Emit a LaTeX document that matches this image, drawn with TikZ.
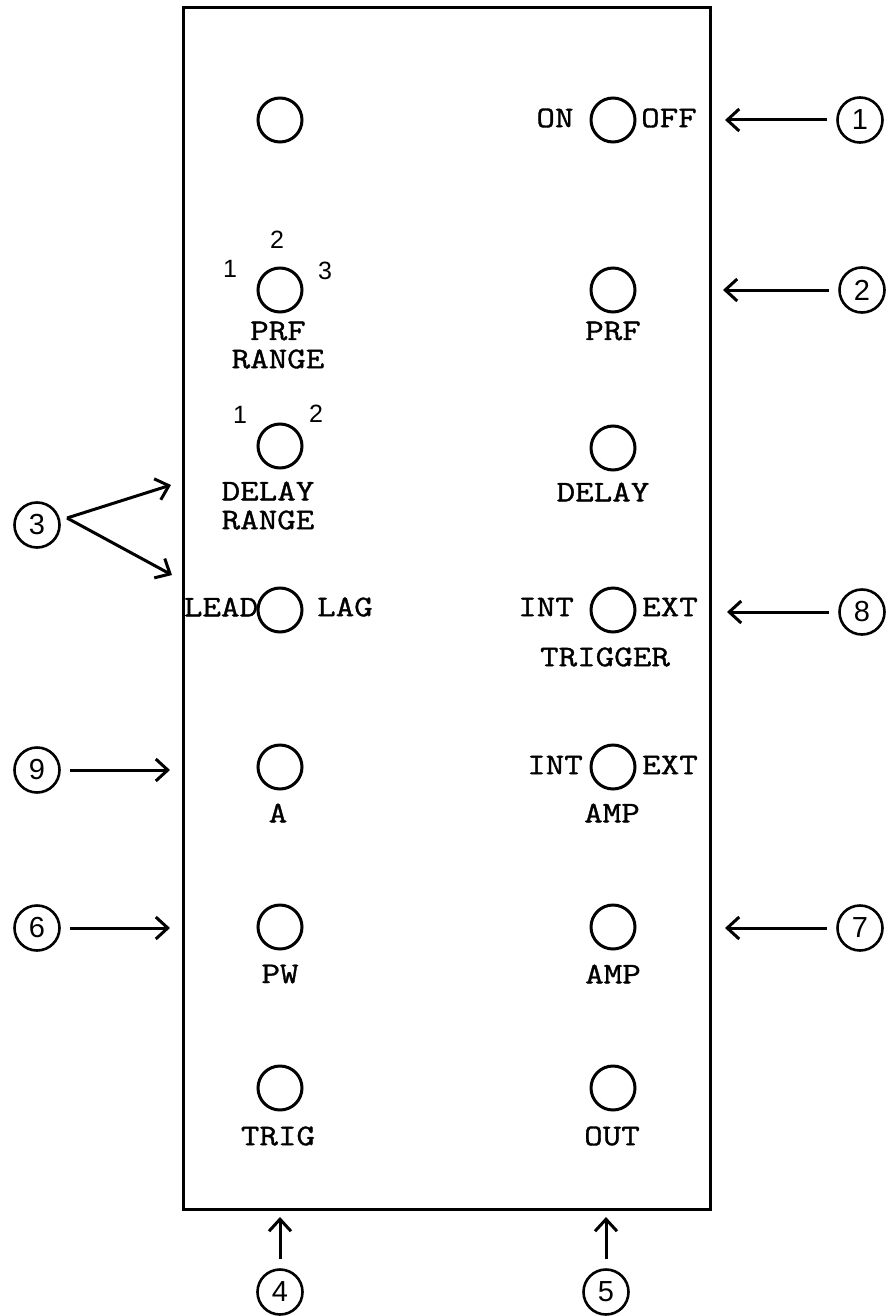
\documentclass[tikz,border=0pt]{standalone}
\usepackage{fontspec}
\newfontfamily\panelfont{Latin Modern Mono}[FakeStretch=1.2, FakeBold=1.2]
\newfontfamily\digitfont{Liberation Sans}
\usetikzlibrary{arrows.meta}
\begin{document}
\begin{tikzpicture}[x=0.5pt,y=-0.5pt,
  lbl/.style={font=\fontsize{15}{17}\panelfont, inner sep=0pt},
  posnum/.style={font=\fontsize{12.5}{14}\digitfont, inner sep=0pt},
  knob/.style={circle, draw, line width=1.5pt, minimum size=22pt, inner sep=0pt},
  callout/.style={circle, draw, line width=1.3pt, minimum size=22.5pt, inner sep=0pt,
                  font=\fontsize{14.5}{16}\digitfont},
  pointer/.style={line width=1.5pt, shorten <=4.5pt,
                  -{Straight Barb[length=6pt,width=11pt,line width=1.5pt]}}
]
\useasboundingbox (0,0) rectangle (888,1316);

% front panel outline
\coordinate (panelNW) at (183,8);
\coordinate (panelSE) at (710,1209);
\draw[line width=1.5pt] (panelNW) rectangle (panelSE);

% ---- left column of controls ----
\node[knob] (k1L) at (280,120) {};

\node[knob] (k2L) at (280,290) {};
\node[posnum] (p2L1) at (230,269) {1};
\node[posnum] (p2L2) at (277,240) {2};
\node[posnum] (p2L3) at (325,271) {3};
\node[lbl] (prfr1) at (278,331) {PRF};
\node[lbl] (prfr2) at (278,359) {RANGE};

\node[knob] (k3L) at (280,446) {};
\node[posnum] (p3L1) at (240,415) {1};
\node[posnum] (p3L2) at (316,414) {2};
\node[lbl] (dlyr1) at (268,491) {DELAY};
\node[lbl] (dlyr2) at (268,520) {RANGE};

\node[knob] (k4L) at (280,610) {};
\node[lbl] (lead) at (221,607) {LEAD};
\node[lbl] (lag) at (345,607) {LAG};

\node[knob] (k5L) at (280,767) {};
\node[lbl] (alab) at (278,813) {A};

\node[knob] (k6L) at (280,927) {};
\node[lbl] (pwlab) at (280,974) {PW};

\node[knob] (k7L) at (280,1088) {};
\node[lbl] (triglab) at (278,1136) {TRIG};

% ---- right column of controls ----
\node[knob] (k1R) at (613,120) {};
\node[lbl] (onlab) at (555,118) {ON};
\node[lbl] (offlab) at (669,118) {OFF};

\node[knob] (k2R) at (613,290) {};
\node[lbl] (prflab) at (613,331) {PRF};

\node[knob] (k3R) at (613,448) {};
\node[lbl] (dlylab) at (603,492) {DELAY};

\node[knob] (k4R) at (613,610) {};
\node[lbl] (int1) at (546,607) {INT};
\node[lbl] (ext1) at (670,607) {EXT};
\node[lbl] (trglab) at (605,657) {TRIGGER};

\node[knob] (k5R) at (613,767) {};
\node[lbl] (int2) at (555,765) {INT};
\node[lbl] (ext2) at (670,765) {EXT};
\node[lbl] (amplab1) at (612,813) {AMP};

\node[knob] (k6R) at (613,927) {};
\node[lbl] (amplab2) at (613,974) {AMP};

\node[knob] (k7R) at (613,1088) {};
\node[lbl] (outlab) at (612,1136) {OUT};

% ---- numbered callouts ----
\node[callout] (c1) at (860,120) {1};
\node[callout] (c2) at (862,290) {2};
\node[callout] (c3) at (37,525) {3};
\node[callout] (c4) at (280,1292) {4};
\node[callout] (c5) at (606,1292) {5};
\node[callout] (c6) at (37,928) {6};
\node[callout] (c7) at (860,928) {7};
\node[callout] (c8) at (862,612) {8};
\node[callout] (c9) at (37,770) {9};

% arrow tips just outside the panel edge
\coordinate (t1) at (725,120);
\coordinate (t2) at (723,290);
\coordinate (t3a) at (171,485);
\coordinate (t3b) at (172,575);
\coordinate (t4) at (280,1217);
\coordinate (t5) at (606,1217);
\coordinate (t6) at (170,928);
\coordinate (t7) at (725,928);
\coordinate (t8) at (727,612);
\coordinate (t9) at (170,770);
\coordinate (c3v) at (67,518);

\draw[pointer] (c1) -- (t1);
\draw[pointer] (c2) -- (t2);
\draw[pointer, shorten <=0pt] (c3v) -- (t3a);
\draw[pointer, shorten <=0pt] (c3v) -- (t3b);
\draw[pointer] (c4) -- (t4);
\draw[pointer] (c5) -- (t5);
\draw[pointer] (c6) -- (t6);
\draw[pointer] (c7) -- (t7);
\draw[pointer] (c8) -- (t8);
\draw[pointer] (c9) -- (t9);
\end{tikzpicture}
\end{document}
